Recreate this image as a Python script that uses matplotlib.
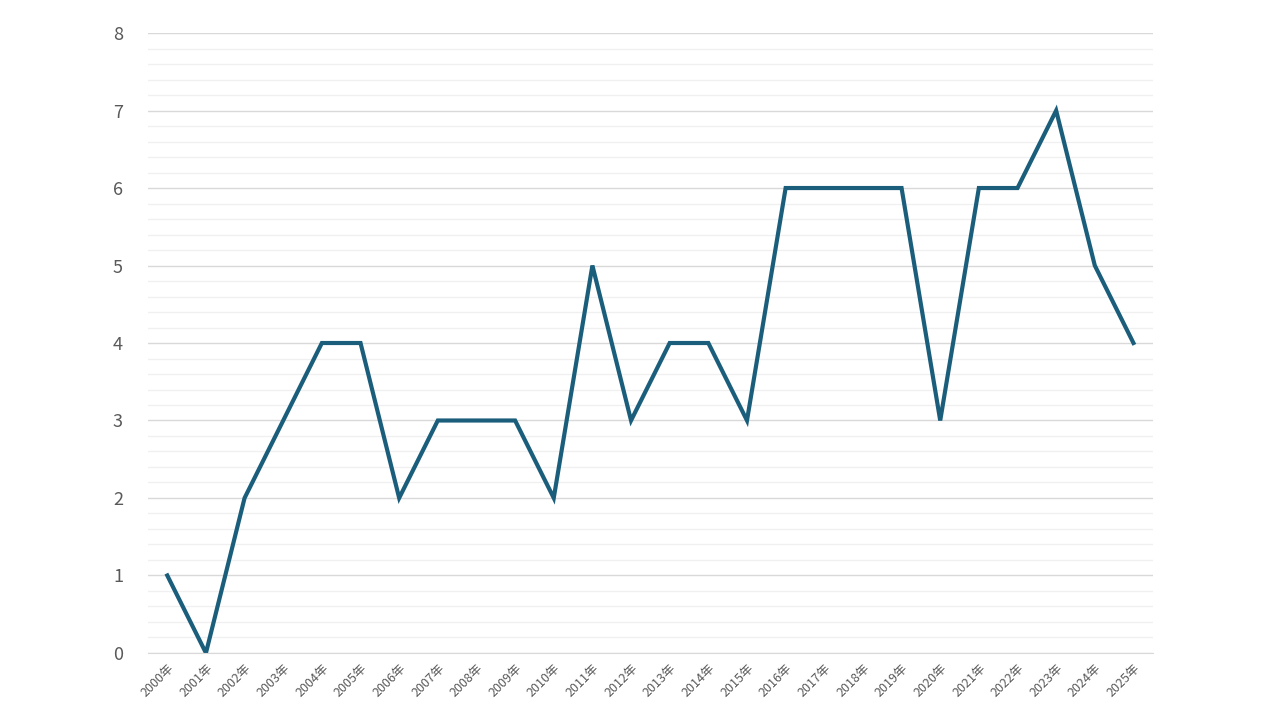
import matplotlib.pyplot as plt
from matplotlib.ticker import MultipleLocator

plt.rcParams['font.family'] = ['Noto Sans CJK JP', 'DejaVu Sans']

years = [f'{y}年' for y in range(2000, 2026)]
values = [1, 0, 2, 3, 4, 4, 2, 3, 3, 3, 2, 5, 3, 4, 4, 3, 6, 6, 6, 6, 3, 6, 6, 7, 5, 4]

fig = plt.figure(figsize=(12.8, 7.2), dpi=100)
ax = fig.add_axes([0.1156, 0.0931, 0.785, 0.861])

x = list(range(len(years)))
ax.plot(x, values, color='#1B5E7B', linewidth=3, solid_joinstyle='miter')

ax.set_xlim(-0.5, len(years) - 0.5)
ax.set_ylim(0, 8)
ax.yaxis.set_major_locator(MultipleLocator(1))
ax.yaxis.set_minor_locator(MultipleLocator(0.2))
ax.grid(axis='y', which='major', color='#D9D9D9', linewidth=1)
ax.grid(axis='y', which='minor', color='#F0F0F0', linewidth=1)
ax.set_axisbelow(True)

ax.set_xticks(x)
ax.set_xticklabels(years, rotation=45, ha='right', rotation_mode='anchor',
                   fontsize=9, color='#595959')
ax.tick_params(axis='x', length=0, pad=6)
ax.tick_params(axis='y', which='both', length=0, labelsize=13, labelcolor='#595959', pad=18)

for s in ax.spines.values():
    s.set_visible(False)
ax.spines['bottom'].set_visible(True)
ax.spines['bottom'].set_color('#D9D9D9')

fig.savefig('out.png', dpi=100)
